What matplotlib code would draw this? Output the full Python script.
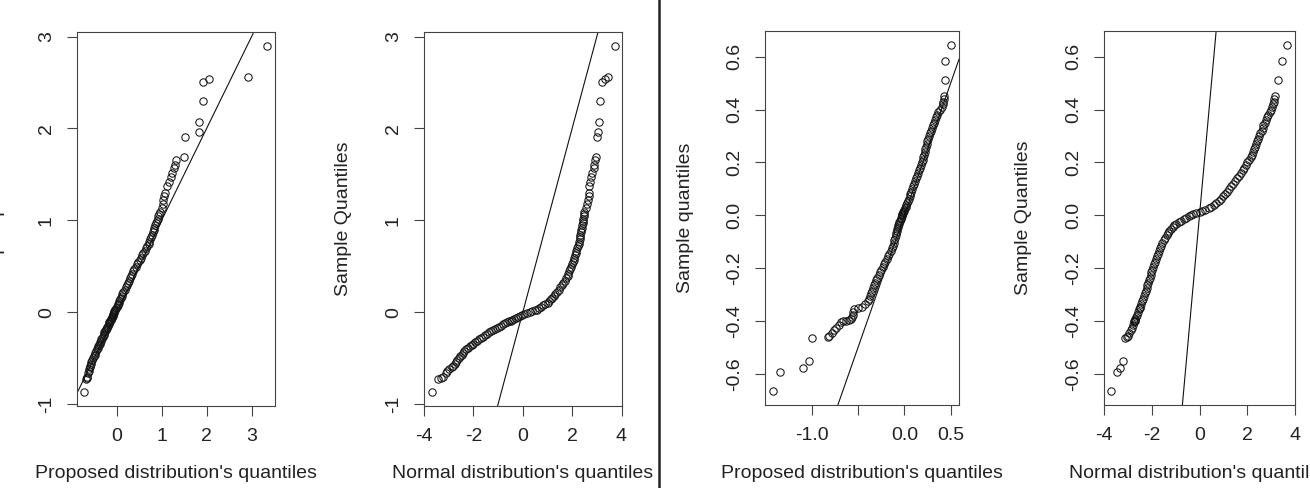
import matplotlib
matplotlib.use("Agg")
import matplotlib.pyplot as plt
from matplotlib.lines import Line2D

plt.rcParams['font.family'] = ['Liberation Sans', 'DejaVu Sans']
plt.rcParams['axes.unicode_minus'] = False

# left half: sorted sample and the matching theoretical quantiles
sample_1 = [
    -0.87, -0.73, -0.71, -0.70, -0.66, -0.64, -0.62, -0.60, -0.58,
    -0.56, -0.54, -0.52, -0.50, -0.48, -0.46, -0.44, -0.42, -0.40, -0.385, -0.37,
    -0.355, -0.34, -0.325, -0.31, -0.295, -0.28, -0.265, -0.25, -0.235, -0.22, -0.205,
    -0.19, -0.178, -0.166, -0.155, -0.144, -0.133, -0.122, -0.111, -0.10, -0.09, -0.08,
    -0.07, -0.06, -0.05, -0.04, -0.03, -0.02, -0.01, 0.0, 0.01, 0.02, 0.03, 0.045, 0.06,
    0.075, 0.09, 0.105,
    0.12, 0.14, 0.16, 0.18, 0.20, 0.22, 0.245, 0.27, 0.295, 0.32, 0.345, 0.37, 0.395,
    0.42, 0.445, 0.47, 0.495, 0.52, 0.545, 0.57,
    0.595, 0.62, 0.645, 0.67, 0.695, 0.72, 0.745, 0.77, 0.795, 0.82, 0.845, 0.87, 0.895,
    0.92, 0.945, 0.97, 0.995, 1.02, 1.045, 1.07, 1.09,
    1.13, 1.18, 1.22, 1.27, 1.30, 1.37, 1.42, 1.47, 1.52, 1.57, 1.60, 1.66, 1.69, 1.91,
    1.96, 2.07, 2.30, 2.51, 2.54, 2.56, 2.90,
]
proposed_q_1 = [
    -0.73, -0.68, -0.66, -0.65, -0.63, -0.62, -0.61, -0.60, -0.59,
    -0.58, -0.57, -0.55, -0.53, -0.51, -0.49, -0.47, -0.46, -0.44, -0.42, -0.41,
    -0.39, -0.38, -0.37, -0.35, -0.34, -0.32, -0.31, -0.29, -0.28, -0.27, -0.25,
    -0.24, -0.23, -0.22, -0.21, -0.19, -0.18, -0.17, -0.16, -0.15, -0.14, -0.13,
    -0.12, -0.11, -0.10, -0.09, -0.08, -0.07, -0.06, -0.06, -0.05, -0.04, -0.03, -0.01, 0.00,
    0.02, 0.03, 0.05,
    0.06, 0.08, 0.10, 0.12, 0.13, 0.15, 0.18, 0.20, 0.23, 0.25, 0.27, 0.30, 0.32,
    0.35, 0.37, 0.395, 0.42, 0.45, 0.48, 0.51,
    0.54, 0.56, 0.59, 0.62, 0.65, 0.68, 0.71, 0.72, 0.74, 0.76, 0.78, 0.80, 0.82,
    0.84, 0.86, 0.88, 0.89, 0.91, 0.93, 0.95, 0.97,
    1.00, 1.03, 1.04, 1.06, 1.08, 1.12, 1.16, 1.21, 1.24, 1.27, 1.29, 1.33, 1.49, 1.52,
    1.82, 1.84, 1.92, 1.92, 2.06, 2.93, 3.34,
]
normal_q_1 = [
    -3.67, -3.43, -3.30, -3.23, -3.12, -3.05, -2.97, -2.88, -2.81,
    -2.75, -2.70, -2.65, -2.59, -2.54, -2.48, -2.43, -2.38, -2.30, -2.22, -2.15,
    -2.07, -2.00, -1.92, -1.85, -1.77, -1.69, -1.61, -1.53, -1.45, -1.37, -1.29,
    -1.19, -1.11, -1.03, -0.96, -0.88, -0.81, -0.73, -0.65, -0.57, -0.49, -0.42,
    -0.34, -0.27, -0.19, -0.12, -0.04, 0.07, 0.18, 0.28, 0.39, 0.50, 0.56, 0.65, 0.74,
    0.83, 0.92, 1.01,
    1.07, 1.13, 1.20, 1.26, 1.32, 1.39, 1.46, 1.52, 1.59, 1.65, 1.71, 1.77, 1.82,
    1.85, 1.89, 1.92, 1.96, 1.99, 2.03, 2.06,
    2.09, 2.12, 2.15, 2.17, 2.20, 2.23, 2.26, 2.28, 2.30, 2.31, 2.33, 2.35, 2.37,
    2.39, 2.41, 2.43, 2.44, 2.46, 2.47, 2.49, 2.50,
    2.55, 2.60, 2.63, 2.67, 2.68, 2.70, 2.73, 2.76, 2.80, 2.87, 2.89, 2.94, 2.96, 3.01,
    3.05, 3.07, 3.14, 3.21, 3.35, 3.46, 3.72,
]

# right half
sample_2 = [
    -0.664, -0.592, -0.576, -0.552, -0.463, -0.46,
    -0.455, -0.445, -0.435, -0.425, -0.415, -0.405, -0.400, -0.398, -0.395, -0.392,
    -0.385, -0.375, -0.365, -0.355, -0.350, -0.345, -0.335, -0.325, -0.315, -0.305,
    -0.295, -0.285, -0.275, -0.265, -0.255, -0.245, -0.235, -0.225, -0.215, -0.205,
    -0.195, -0.185, -0.175, -0.165, -0.155, -0.145, -0.135, -0.125, -0.115, -0.105,
    -0.095, -0.085, -0.075, -0.068,
    -0.06, -0.052, -0.045, -0.038, -0.032, -0.026, -0.02, -0.014, -0.009, -0.004, 0.0,
    0.004, 0.008, 0.012, 0.016, 0.021, 0.027, 0.033, 0.04, 0.047, 0.055,
    0.063, 0.072, 0.081, 0.090, 0.100, 0.110, 0.120, 0.130, 0.140, 0.150, 0.160, 0.170,
    0.180, 0.190, 0.200, 0.210, 0.220, 0.230, 0.240, 0.250, 0.260, 0.270, 0.280, 0.290,
    0.300, 0.310, 0.320, 0.330, 0.340, 0.350, 0.360, 0.370, 0.380, 0.390, 0.400, 0.410,
    0.420, 0.430, 0.440, 0.450,
    0.51, 0.583, 0.643,
]
proposed_q_2 = [
    -1.416, -1.344, -1.094, -1.032, -0.997, -0.825,
    -0.81, -0.785, -0.76, -0.735, -0.71, -0.685, -0.66, -0.63, -0.60, -0.575,
    -0.565, -0.558, -0.551, -0.54, -0.50, -0.46, -0.42, -0.39, -0.38, -0.368,
    -0.357, -0.348, -0.339, -0.33, -0.319, -0.304, -0.29, -0.276, -0.261, -0.247,
    -0.232, -0.218, -0.203, -0.189, -0.175, -0.161, -0.147, -0.132, -0.121, -0.114,
    -0.107, -0.10, -0.093, -0.088,
    -0.083, -0.078, -0.073, -0.066, -0.059, -0.053, -0.046, -0.040, -0.034, -0.029, -0.025,
    -0.020, -0.016, -0.011, -0.007, -0.001, 0.006, 0.013, 0.021, 0.029, 0.038,
    0.048, 0.057, 0.065, 0.074, 0.083, 0.093, 0.102, 0.112, 0.121, 0.132, 0.143, 0.154,
    0.165, 0.177, 0.188, 0.198, 0.205, 0.212, 0.219, 0.226, 0.233, 0.240, 0.247, 0.256,
    0.267, 0.278, 0.289, 0.300, 0.311, 0.322, 0.333, 0.343, 0.354, 0.367, 0.387, 0.405,
    0.414, 0.420, 0.425, 0.429,
    0.44, 0.44, 0.50,
]
normal_q_2 = [
    -3.72, -3.47, -3.33, -3.19, -3.13, -3.04,
    -3.00, -2.94, -2.88, -2.84, -2.79, -2.75, -2.73, -2.72, -2.70, -2.69,
    -2.66, -2.61, -2.57, -2.52, -2.50, -2.48, -2.43, -2.39, -2.35, -2.31,
    -2.28, -2.24, -2.21, -2.18, -2.15, -2.12, -2.08, -2.05, -2.02, -1.98,
    -1.95, -1.92, -1.87, -1.83, -1.78, -1.74, -1.70, -1.65, -1.60, -1.55,
    -1.49, -1.44, -1.38, -1.34,
    -1.27, -1.20, -1.13, -1.07, -0.97, -0.87, -0.77, -0.67, -0.56, -0.45, -0.36,
    -0.27, -0.15, 0.01, 0.12, 0.24, 0.38, 0.50, 0.60, 0.70, 0.80,
    0.89, 0.98, 1.06, 1.15, 1.24, 1.33, 1.42, 1.50, 1.58, 1.66, 1.74, 1.81,
    1.88, 1.94, 2.01, 2.07, 2.14, 2.19, 2.23, 2.28, 2.32, 2.37, 2.42, 2.46,
    2.51, 2.55, 2.60, 2.64, 2.68, 2.73, 2.78, 2.83, 2.89, 2.94, 2.99, 3.03,
    3.06, 3.10, 3.14, 3.18,
    3.29, 3.47, 3.68,
]

ticks_big = [-1, 0, 1, 2, 3]
ticks_normal = [-4, -2, 0, 2, 4]
ticks_prop_1 = [0, 1, 2, 3]
ticks_prop_2 = [-1.0, -0.5, 0.0, 0.5]
labels_prop_2 = ['-1.0', '', '0.0', '0.5']
ticks_small = [-0.6, -0.4, -0.2, 0.0, 0.2, 0.4, 0.6]

W, H = 1310, 488
FS = 14
TXT = '#222222'
EDGE = '#444444'


def qq_panel(fig, box, x, y, xlim, ylim, xticks, xlabels, yticks, ylabels, xlabel, ylabel):
    left, right, top, bottom = box
    bw, bh = right - left, bottom - top
    ax = fig.add_axes([left / W, 1 - bottom / H, bw / W, bh / H])
    ax.plot(x, y, linestyle='none', marker='o', ms=5.3, mfc='none',
            mec='#151515', mew=0.75)
    ax.axline((0, 0), slope=1, color='#111111', lw=0.8)
    ax.set_xlim(xlim)
    ax.set_ylim(ylim)
    ax.set_xticks(xticks, xlabels)
    ax.set_yticks(yticks, ylabels)
    ax.tick_params(direction='out', length=7, width=0.8, color=EDGE,
                   labelsize=FS, labelcolor=TXT, pad=9)
    plt.setp(ax.get_yticklabels(), rotation=90, va='center')
    for s in ax.spines.values():
        s.set_color(EDGE)
        s.set_linewidth(0.8)
    ax.set_xlabel(xlabel, fontsize=FS, color=TXT, va='center')
    ax.set_ylabel(ylabel, fontsize=FS, color=TXT, va='center')
    ax.xaxis.set_label_coords(0.5, -68 / bh)
    ax.yaxis.set_label_coords(-80 / bw, 0.5)
    return ax


fig = plt.figure(figsize=(W / 100, H / 100), dpi=100)

qq_panel(fig, (77, 275, 32, 406), proposed_q_1, sample_1, (-0.88, 3.52), (-1.02, 3.05),
         ticks_prop_1, [str(t) for t in ticks_prop_1], ticks_big, [str(t) for t in ticks_big],
         "Proposed distribution's quantiles", "Sample quantiles")
qq_panel(fig, (424, 621.5, 32, 406), normal_q_1, sample_1, (-4, 4), (-1.02, 3.05),
         ticks_normal, [str(t) for t in ticks_normal], ticks_big, [str(t) for t in ticks_big],
         "Normal distribution's quantiles", "Sample Quantiles")
qq_panel(fig, (765, 959, 31, 405), proposed_q_2, sample_2, (-1.503, 0.59), (-0.717, 0.697),
         ticks_prop_2, labels_prop_2, ticks_small, [f'{t:.1f}' for t in ticks_small],
         "Proposed distribution's quantiles", "Sample quantiles")
qq_panel(fig, (1104, 1295, 31, 405), normal_q_2, sample_2, (-4, 4), (-0.717, 0.697),
         ticks_normal, [str(t) for t in ticks_normal], ticks_small, [f'{t:.1f}' for t in ticks_small],
         "Normal distribution's quantiles", "Sample Quantiles")

# divider between the two halves
fig.add_artist(Line2D([659 / W, 659 / W], [0, 1], transform=fig.transFigure,
                      color='#222222', lw=1.8))

fig.savefig('out.png', dpi=100)
